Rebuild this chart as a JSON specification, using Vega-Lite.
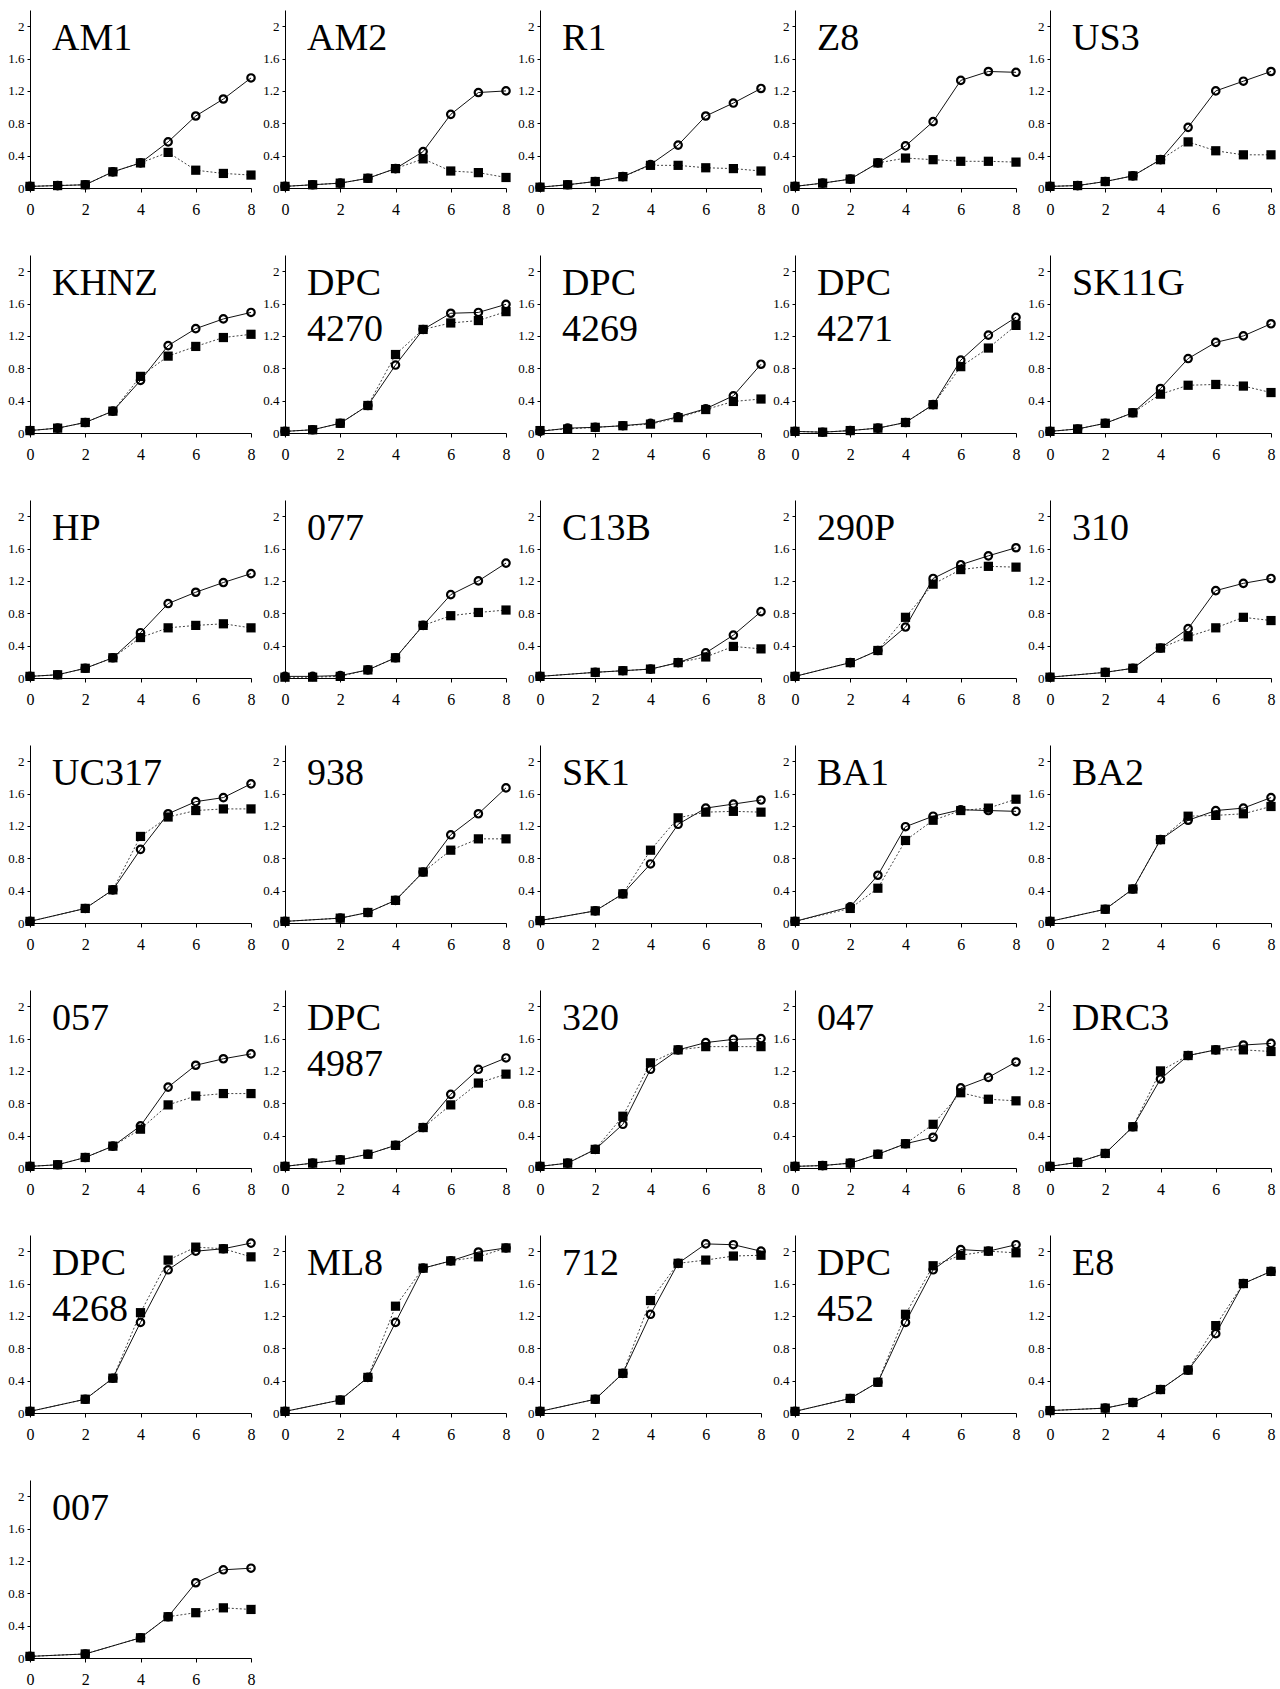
{
"$schema": "https://vega.github.io/schema/vega-lite/v6.json",
"padding": {"left": 5, "top": 9, "right": 5, "bottom": 5},
"background": "white",
"datasets": {"d": [
{"p":"AM1","g":"s","x":0,"y":0.02},{"p":"AM1","g":"s","x":1,"y":0.03},{"p":"AM1","g":"s","x":2,"y":0.04},{"p":"AM1","g":"s","x":3,"y":0.2},{"p":"AM1","g":"s","x":4,"y":0.31},{"p":"AM1","g":"s","x":5,"y":0.44},{"p":"AM1","g":"s","x":6,"y":0.22},{"p":"AM1","g":"s","x":7,"y":0.18},{"p":"AM1","g":"s","x":8,"y":0.16},
{"p":"AM1","g":"o","x":0,"y":0.02},{"p":"AM1","g":"o","x":1,"y":0.03},{"p":"AM1","g":"o","x":2,"y":0.04},{"p":"AM1","g":"o","x":3,"y":0.2},{"p":"AM1","g":"o","x":4,"y":0.31},{"p":"AM1","g":"o","x":5,"y":0.57},{"p":"AM1","g":"o","x":6,"y":0.89},{"p":"AM1","g":"o","x":7,"y":1.1},{"p":"AM1","g":"o","x":8,"y":1.36},
{"p":"AM2","g":"s","x":0,"y":0.02},{"p":"AM2","g":"s","x":1,"y":0.04},{"p":"AM2","g":"s","x":2,"y":0.06},{"p":"AM2","g":"s","x":3,"y":0.12},{"p":"AM2","g":"s","x":4,"y":0.24},{"p":"AM2","g":"s","x":5,"y":0.36},{"p":"AM2","g":"s","x":6,"y":0.21},{"p":"AM2","g":"s","x":7,"y":0.19},{"p":"AM2","g":"s","x":8,"y":0.13},
{"p":"AM2","g":"o","x":0,"y":0.02},{"p":"AM2","g":"o","x":1,"y":0.04},{"p":"AM2","g":"o","x":2,"y":0.06},{"p":"AM2","g":"o","x":3,"y":0.12},{"p":"AM2","g":"o","x":4,"y":0.24},{"p":"AM2","g":"o","x":5,"y":0.45},{"p":"AM2","g":"o","x":6,"y":0.91},{"p":"AM2","g":"o","x":7,"y":1.18},{"p":"AM2","g":"o","x":8,"y":1.2},
{"p":"R1","g":"s","x":0,"y":0.01},{"p":"R1","g":"s","x":1,"y":0.04},{"p":"R1","g":"s","x":2,"y":0.08},{"p":"R1","g":"s","x":3,"y":0.14},{"p":"R1","g":"s","x":4,"y":0.28},{"p":"R1","g":"s","x":5,"y":0.28},{"p":"R1","g":"s","x":6,"y":0.25},{"p":"R1","g":"s","x":7,"y":0.24},{"p":"R1","g":"s","x":8,"y":0.21},
{"p":"R1","g":"o","x":0,"y":0.01},{"p":"R1","g":"o","x":1,"y":0.04},{"p":"R1","g":"o","x":2,"y":0.08},{"p":"R1","g":"o","x":3,"y":0.14},{"p":"R1","g":"o","x":4,"y":0.29},{"p":"R1","g":"o","x":5,"y":0.53},{"p":"R1","g":"o","x":6,"y":0.89},{"p":"R1","g":"o","x":7,"y":1.05},{"p":"R1","g":"o","x":8,"y":1.23},
{"p":"Z8","g":"s","x":0,"y":0.02},{"p":"Z8","g":"s","x":1,"y":0.06},{"p":"Z8","g":"s","x":2,"y":0.11},{"p":"Z8","g":"s","x":3,"y":0.31},{"p":"Z8","g":"s","x":4,"y":0.37},{"p":"Z8","g":"s","x":5,"y":0.35},{"p":"Z8","g":"s","x":6,"y":0.33},{"p":"Z8","g":"s","x":7,"y":0.33},{"p":"Z8","g":"s","x":8,"y":0.32},
{"p":"Z8","g":"o","x":0,"y":0.02},{"p":"Z8","g":"o","x":1,"y":0.06},{"p":"Z8","g":"o","x":2,"y":0.11},{"p":"Z8","g":"o","x":3,"y":0.31},{"p":"Z8","g":"o","x":4,"y":0.52},{"p":"Z8","g":"o","x":5,"y":0.82},{"p":"Z8","g":"o","x":6,"y":1.33},{"p":"Z8","g":"o","x":7,"y":1.44},{"p":"Z8","g":"o","x":8,"y":1.43},
{"p":"US3","g":"s","x":0,"y":0.02},{"p":"US3","g":"s","x":1,"y":0.03},{"p":"US3","g":"s","x":2,"y":0.08},{"p":"US3","g":"s","x":3,"y":0.15},{"p":"US3","g":"s","x":4,"y":0.35},{"p":"US3","g":"s","x":5,"y":0.57},{"p":"US3","g":"s","x":6,"y":0.46},{"p":"US3","g":"s","x":7,"y":0.41},{"p":"US3","g":"s","x":8,"y":0.41},
{"p":"US3","g":"o","x":0,"y":0.02},{"p":"US3","g":"o","x":1,"y":0.03},{"p":"US3","g":"o","x":2,"y":0.08},{"p":"US3","g":"o","x":3,"y":0.15},{"p":"US3","g":"o","x":4,"y":0.35},{"p":"US3","g":"o","x":5,"y":0.75},{"p":"US3","g":"o","x":6,"y":1.2},{"p":"US3","g":"o","x":7,"y":1.32},{"p":"US3","g":"o","x":8,"y":1.44},
{"p":"KHNZ","g":"s","x":0,"y":0.03},{"p":"KHNZ","g":"s","x":1,"y":0.06},{"p":"KHNZ","g":"s","x":2,"y":0.13},{"p":"KHNZ","g":"s","x":3,"y":0.27},{"p":"KHNZ","g":"s","x":4,"y":0.7},{"p":"KHNZ","g":"s","x":5,"y":0.95},{"p":"KHNZ","g":"s","x":6,"y":1.07},{"p":"KHNZ","g":"s","x":7,"y":1.18},{"p":"KHNZ","g":"s","x":8,"y":1.22},
{"p":"KHNZ","g":"o","x":0,"y":0.03},{"p":"KHNZ","g":"o","x":1,"y":0.06},{"p":"KHNZ","g":"o","x":2,"y":0.13},{"p":"KHNZ","g":"o","x":3,"y":0.27},{"p":"KHNZ","g":"o","x":4,"y":0.65},{"p":"KHNZ","g":"o","x":5,"y":1.08},{"p":"KHNZ","g":"o","x":6,"y":1.29},{"p":"KHNZ","g":"o","x":7,"y":1.41},{"p":"KHNZ","g":"o","x":8,"y":1.49},
{"p":"DPC 4270","g":"s","x":0,"y":0.02},{"p":"DPC 4270","g":"s","x":1,"y":0.04},{"p":"DPC 4270","g":"s","x":2,"y":0.12},{"p":"DPC 4270","g":"s","x":3,"y":0.34},{"p":"DPC 4270","g":"s","x":4,"y":0.97},{"p":"DPC 4270","g":"s","x":5,"y":1.28},{"p":"DPC 4270","g":"s","x":6,"y":1.36},{"p":"DPC 4270","g":"s","x":7,"y":1.39},{"p":"DPC 4270","g":"s","x":8,"y":1.5},
{"p":"DPC 4270","g":"o","x":0,"y":0.02},{"p":"DPC 4270","g":"o","x":1,"y":0.04},{"p":"DPC 4270","g":"o","x":2,"y":0.12},{"p":"DPC 4270","g":"o","x":3,"y":0.34},{"p":"DPC 4270","g":"o","x":4,"y":0.84},{"p":"DPC 4270","g":"o","x":5,"y":1.28},{"p":"DPC 4270","g":"o","x":6,"y":1.48},{"p":"DPC 4270","g":"o","x":7,"y":1.49},{"p":"DPC 4270","g":"o","x":8,"y":1.59},
{"p":"DPC 4269","g":"s","x":0,"y":0.03},{"p":"DPC 4269","g":"s","x":1,"y":0.05},{"p":"DPC 4269","g":"s","x":2,"y":0.07},{"p":"DPC 4269","g":"s","x":3,"y":0.09},{"p":"DPC 4269","g":"s","x":4,"y":0.11},{"p":"DPC 4269","g":"s","x":5,"y":0.19},{"p":"DPC 4269","g":"s","x":6,"y":0.29},{"p":"DPC 4269","g":"s","x":7,"y":0.39},{"p":"DPC 4269","g":"s","x":8,"y":0.42},
{"p":"DPC 4269","g":"o","x":0,"y":0.02},{"p":"DPC 4269","g":"o","x":1,"y":0.06},{"p":"DPC 4269","g":"o","x":2,"y":0.07},{"p":"DPC 4269","g":"o","x":3,"y":0.09},{"p":"DPC 4269","g":"o","x":4,"y":0.12},{"p":"DPC 4269","g":"o","x":5,"y":0.2},{"p":"DPC 4269","g":"o","x":6,"y":0.3},{"p":"DPC 4269","g":"o","x":7,"y":0.46},{"p":"DPC 4269","g":"o","x":8,"y":0.85},
{"p":"DPC 4271","g":"s","x":0,"y":0.02},{"p":"DPC 4271","g":"s","x":1,"y":0.01},{"p":"DPC 4271","g":"s","x":2,"y":0.03},{"p":"DPC 4271","g":"s","x":3,"y":0.06},{"p":"DPC 4271","g":"s","x":4,"y":0.13},{"p":"DPC 4271","g":"s","x":5,"y":0.35},{"p":"DPC 4271","g":"s","x":6,"y":0.82},{"p":"DPC 4271","g":"s","x":7,"y":1.05},{"p":"DPC 4271","g":"s","x":8,"y":1.33},
{"p":"DPC 4271","g":"o","x":0,"y":0.02},{"p":"DPC 4271","g":"o","x":1,"y":0.01},{"p":"DPC 4271","g":"o","x":2,"y":0.03},{"p":"DPC 4271","g":"o","x":3,"y":0.06},{"p":"DPC 4271","g":"o","x":4,"y":0.13},{"p":"DPC 4271","g":"o","x":5,"y":0.35},{"p":"DPC 4271","g":"o","x":6,"y":0.9},{"p":"DPC 4271","g":"o","x":7,"y":1.21},{"p":"DPC 4271","g":"o","x":8,"y":1.43},
{"p":"SK11G","g":"s","x":0,"y":0.02},{"p":"SK11G","g":"s","x":1,"y":0.05},{"p":"SK11G","g":"s","x":2,"y":0.12},{"p":"SK11G","g":"s","x":3,"y":0.25},{"p":"SK11G","g":"s","x":4,"y":0.48},{"p":"SK11G","g":"s","x":5,"y":0.59},{"p":"SK11G","g":"s","x":6,"y":0.6},{"p":"SK11G","g":"s","x":7,"y":0.58},{"p":"SK11G","g":"s","x":8,"y":0.5},
{"p":"SK11G","g":"o","x":0,"y":0.02},{"p":"SK11G","g":"o","x":1,"y":0.05},{"p":"SK11G","g":"o","x":2,"y":0.12},{"p":"SK11G","g":"o","x":3,"y":0.25},{"p":"SK11G","g":"o","x":4,"y":0.55},{"p":"SK11G","g":"o","x":5,"y":0.92},{"p":"SK11G","g":"o","x":6,"y":1.12},{"p":"SK11G","g":"o","x":7,"y":1.2},{"p":"SK11G","g":"o","x":8,"y":1.35},
{"p":"HP","g":"s","x":0,"y":0.02},{"p":"HP","g":"s","x":1,"y":0.04},{"p":"HP","g":"s","x":2,"y":0.12},{"p":"HP","g":"s","x":3,"y":0.25},{"p":"HP","g":"s","x":4,"y":0.5},{"p":"HP","g":"s","x":5,"y":0.62},{"p":"HP","g":"s","x":6,"y":0.65},{"p":"HP","g":"s","x":7,"y":0.67},{"p":"HP","g":"s","x":8,"y":0.62},
{"p":"HP","g":"o","x":0,"y":0.02},{"p":"HP","g":"o","x":1,"y":0.04},{"p":"HP","g":"o","x":2,"y":0.12},{"p":"HP","g":"o","x":3,"y":0.25},{"p":"HP","g":"o","x":4,"y":0.56},{"p":"HP","g":"o","x":5,"y":0.92},{"p":"HP","g":"o","x":6,"y":1.06},{"p":"HP","g":"o","x":7,"y":1.18},{"p":"HP","g":"o","x":8,"y":1.29},
{"p":"077","g":"s","x":0,"y":0.01},{"p":"077","g":"s","x":1,"y":0.01},{"p":"077","g":"s","x":2,"y":0.02},{"p":"077","g":"s","x":3,"y":0.1},{"p":"077","g":"s","x":4,"y":0.25},{"p":"077","g":"s","x":5,"y":0.65},{"p":"077","g":"s","x":6,"y":0.77},{"p":"077","g":"s","x":7,"y":0.81},{"p":"077","g":"s","x":8,"y":0.84},
{"p":"077","g":"o","x":0,"y":0.02},{"p":"077","g":"o","x":1,"y":0.02},{"p":"077","g":"o","x":2,"y":0.03},{"p":"077","g":"o","x":3,"y":0.1},{"p":"077","g":"o","x":4,"y":0.25},{"p":"077","g":"o","x":5,"y":0.65},{"p":"077","g":"o","x":6,"y":1.03},{"p":"077","g":"o","x":7,"y":1.2},{"p":"077","g":"o","x":8,"y":1.42},
{"p":"C13B","g":"s","x":0,"y":0.02},{"p":"C13B","g":"s","x":2,"y":0.07},{"p":"C13B","g":"s","x":3,"y":0.09},{"p":"C13B","g":"s","x":4,"y":0.11},{"p":"C13B","g":"s","x":5,"y":0.19},{"p":"C13B","g":"s","x":6,"y":0.26},{"p":"C13B","g":"s","x":7,"y":0.39},{"p":"C13B","g":"s","x":8,"y":0.36},
{"p":"C13B","g":"o","x":0,"y":0.02},{"p":"C13B","g":"o","x":2,"y":0.07},{"p":"C13B","g":"o","x":3,"y":0.09},{"p":"C13B","g":"o","x":4,"y":0.11},{"p":"C13B","g":"o","x":5,"y":0.19},{"p":"C13B","g":"o","x":6,"y":0.31},{"p":"C13B","g":"o","x":7,"y":0.53},{"p":"C13B","g":"o","x":8,"y":0.82},
{"p":"290P","g":"s","x":0,"y":0.02},{"p":"290P","g":"s","x":2,"y":0.19},{"p":"290P","g":"s","x":3,"y":0.34},{"p":"290P","g":"s","x":4,"y":0.75},{"p":"290P","g":"s","x":5,"y":1.16},{"p":"290P","g":"s","x":6,"y":1.34},{"p":"290P","g":"s","x":7,"y":1.38},{"p":"290P","g":"s","x":8,"y":1.37},
{"p":"290P","g":"o","x":0,"y":0.02},{"p":"290P","g":"o","x":2,"y":0.19},{"p":"290P","g":"o","x":3,"y":0.34},{"p":"290P","g":"o","x":4,"y":0.63},{"p":"290P","g":"o","x":5,"y":1.23},{"p":"290P","g":"o","x":6,"y":1.4},{"p":"290P","g":"o","x":7,"y":1.51},{"p":"290P","g":"o","x":8,"y":1.61},
{"p":"310","g":"s","x":0,"y":0.01},{"p":"310","g":"s","x":2,"y":0.07},{"p":"310","g":"s","x":3,"y":0.12},{"p":"310","g":"s","x":4,"y":0.37},{"p":"310","g":"s","x":5,"y":0.51},{"p":"310","g":"s","x":6,"y":0.62},{"p":"310","g":"s","x":7,"y":0.75},{"p":"310","g":"s","x":8,"y":0.71},
{"p":"310","g":"o","x":0,"y":0.01},{"p":"310","g":"o","x":2,"y":0.07},{"p":"310","g":"o","x":3,"y":0.12},{"p":"310","g":"o","x":4,"y":0.37},{"p":"310","g":"o","x":5,"y":0.61},{"p":"310","g":"o","x":6,"y":1.08},{"p":"310","g":"o","x":7,"y":1.17},{"p":"310","g":"o","x":8,"y":1.23},
{"p":"UC317","g":"s","x":0,"y":0.02},{"p":"UC317","g":"s","x":2,"y":0.18},{"p":"UC317","g":"s","x":3,"y":0.41},{"p":"UC317","g":"s","x":4,"y":1.07},{"p":"UC317","g":"s","x":5,"y":1.31},{"p":"UC317","g":"s","x":6,"y":1.39},{"p":"UC317","g":"s","x":7,"y":1.41},{"p":"UC317","g":"s","x":8,"y":1.41},
{"p":"UC317","g":"o","x":0,"y":0.02},{"p":"UC317","g":"o","x":2,"y":0.18},{"p":"UC317","g":"o","x":3,"y":0.41},{"p":"UC317","g":"o","x":4,"y":0.91},{"p":"UC317","g":"o","x":5,"y":1.35},{"p":"UC317","g":"o","x":6,"y":1.5},{"p":"UC317","g":"o","x":7,"y":1.55},{"p":"UC317","g":"o","x":8,"y":1.72},
{"p":"938","g":"s","x":0,"y":0.02},{"p":"938","g":"s","x":2,"y":0.06},{"p":"938","g":"s","x":3,"y":0.13},{"p":"938","g":"s","x":4,"y":0.28},{"p":"938","g":"s","x":5,"y":0.63},{"p":"938","g":"s","x":6,"y":0.9},{"p":"938","g":"s","x":7,"y":1.04},{"p":"938","g":"s","x":8,"y":1.04},
{"p":"938","g":"o","x":0,"y":0.02},{"p":"938","g":"o","x":2,"y":0.06},{"p":"938","g":"o","x":3,"y":0.13},{"p":"938","g":"o","x":4,"y":0.28},{"p":"938","g":"o","x":5,"y":0.63},{"p":"938","g":"o","x":6,"y":1.09},{"p":"938","g":"o","x":7,"y":1.35},{"p":"938","g":"o","x":8,"y":1.67},
{"p":"SK1","g":"s","x":0,"y":0.03},{"p":"SK1","g":"s","x":2,"y":0.15},{"p":"SK1","g":"s","x":3,"y":0.36},{"p":"SK1","g":"s","x":4,"y":0.9},{"p":"SK1","g":"s","x":5,"y":1.3},{"p":"SK1","g":"s","x":6,"y":1.37},{"p":"SK1","g":"s","x":7,"y":1.38},{"p":"SK1","g":"s","x":8,"y":1.37},
{"p":"SK1","g":"o","x":0,"y":0.03},{"p":"SK1","g":"o","x":2,"y":0.15},{"p":"SK1","g":"o","x":3,"y":0.36},{"p":"SK1","g":"o","x":4,"y":0.73},{"p":"SK1","g":"o","x":5,"y":1.22},{"p":"SK1","g":"o","x":6,"y":1.42},{"p":"SK1","g":"o","x":7,"y":1.47},{"p":"SK1","g":"o","x":8,"y":1.52},
{"p":"BA1","g":"s","x":0,"y":0.02},{"p":"BA1","g":"s","x":2,"y":0.18},{"p":"BA1","g":"s","x":3,"y":0.43},{"p":"BA1","g":"s","x":4,"y":1.02},{"p":"BA1","g":"s","x":5,"y":1.27},{"p":"BA1","g":"s","x":6,"y":1.39},{"p":"BA1","g":"s","x":7,"y":1.42},{"p":"BA1","g":"s","x":8,"y":1.53},
{"p":"BA1","g":"o","x":0,"y":0.02},{"p":"BA1","g":"o","x":2,"y":0.2},{"p":"BA1","g":"o","x":3,"y":0.59},{"p":"BA1","g":"o","x":4,"y":1.19},{"p":"BA1","g":"o","x":5,"y":1.32},{"p":"BA1","g":"o","x":6,"y":1.4},{"p":"BA1","g":"o","x":7,"y":1.39},{"p":"BA1","g":"o","x":8,"y":1.38},
{"p":"BA2","g":"s","x":0,"y":0.02},{"p":"BA2","g":"s","x":2,"y":0.17},{"p":"BA2","g":"s","x":3,"y":0.42},{"p":"BA2","g":"s","x":4,"y":1.03},{"p":"BA2","g":"s","x":5,"y":1.32},{"p":"BA2","g":"s","x":6,"y":1.33},{"p":"BA2","g":"s","x":7,"y":1.35},{"p":"BA2","g":"s","x":8,"y":1.44},
{"p":"BA2","g":"o","x":0,"y":0.02},{"p":"BA2","g":"o","x":2,"y":0.17},{"p":"BA2","g":"o","x":3,"y":0.42},{"p":"BA2","g":"o","x":4,"y":1.03},{"p":"BA2","g":"o","x":5,"y":1.27},{"p":"BA2","g":"o","x":6,"y":1.39},{"p":"BA2","g":"o","x":7,"y":1.42},{"p":"BA2","g":"o","x":8,"y":1.55},
{"p":"057","g":"s","x":0,"y":0.02},{"p":"057","g":"s","x":1,"y":0.04},{"p":"057","g":"s","x":2,"y":0.13},{"p":"057","g":"s","x":3,"y":0.27},{"p":"057","g":"s","x":4,"y":0.48},{"p":"057","g":"s","x":5,"y":0.78},{"p":"057","g":"s","x":6,"y":0.89},{"p":"057","g":"s","x":7,"y":0.92},{"p":"057","g":"s","x":8,"y":0.92},
{"p":"057","g":"o","x":0,"y":0.02},{"p":"057","g":"o","x":1,"y":0.04},{"p":"057","g":"o","x":2,"y":0.13},{"p":"057","g":"o","x":3,"y":0.27},{"p":"057","g":"o","x":4,"y":0.52},{"p":"057","g":"o","x":5,"y":1.0},{"p":"057","g":"o","x":6,"y":1.27},{"p":"057","g":"o","x":7,"y":1.35},{"p":"057","g":"o","x":8,"y":1.41},
{"p":"DPC 4987","g":"s","x":0,"y":0.02},{"p":"DPC 4987","g":"s","x":1,"y":0.06},{"p":"DPC 4987","g":"s","x":2,"y":0.1},{"p":"DPC 4987","g":"s","x":3,"y":0.17},{"p":"DPC 4987","g":"s","x":4,"y":0.28},{"p":"DPC 4987","g":"s","x":5,"y":0.5},{"p":"DPC 4987","g":"s","x":6,"y":0.78},{"p":"DPC 4987","g":"s","x":7,"y":1.05},{"p":"DPC 4987","g":"s","x":8,"y":1.16},
{"p":"DPC 4987","g":"o","x":0,"y":0.02},{"p":"DPC 4987","g":"o","x":1,"y":0.06},{"p":"DPC 4987","g":"o","x":2,"y":0.1},{"p":"DPC 4987","g":"o","x":3,"y":0.17},{"p":"DPC 4987","g":"o","x":4,"y":0.28},{"p":"DPC 4987","g":"o","x":5,"y":0.5},{"p":"DPC 4987","g":"o","x":6,"y":0.91},{"p":"DPC 4987","g":"o","x":7,"y":1.22},{"p":"DPC 4987","g":"o","x":8,"y":1.36},
{"p":"320","g":"s","x":0,"y":0.02},{"p":"320","g":"s","x":1,"y":0.06},{"p":"320","g":"s","x":2,"y":0.23},{"p":"320","g":"s","x":3,"y":0.64},{"p":"320","g":"s","x":4,"y":1.3},{"p":"320","g":"s","x":5,"y":1.46},{"p":"320","g":"s","x":6,"y":1.5},{"p":"320","g":"s","x":7,"y":1.5},{"p":"320","g":"s","x":8,"y":1.5},
{"p":"320","g":"o","x":0,"y":0.02},{"p":"320","g":"o","x":1,"y":0.06},{"p":"320","g":"o","x":2,"y":0.23},{"p":"320","g":"o","x":3,"y":0.54},{"p":"320","g":"o","x":4,"y":1.22},{"p":"320","g":"o","x":5,"y":1.46},{"p":"320","g":"o","x":6,"y":1.55},{"p":"320","g":"o","x":7,"y":1.59},{"p":"320","g":"o","x":8,"y":1.6},
{"p":"047","g":"s","x":0,"y":0.02},{"p":"047","g":"s","x":1,"y":0.03},{"p":"047","g":"s","x":2,"y":0.06},{"p":"047","g":"s","x":3,"y":0.17},{"p":"047","g":"s","x":4,"y":0.3},{"p":"047","g":"s","x":5,"y":0.54},{"p":"047","g":"s","x":6,"y":0.93},{"p":"047","g":"s","x":7,"y":0.85},{"p":"047","g":"s","x":8,"y":0.83},
{"p":"047","g":"o","x":0,"y":0.02},{"p":"047","g":"o","x":1,"y":0.03},{"p":"047","g":"o","x":2,"y":0.06},{"p":"047","g":"o","x":3,"y":0.17},{"p":"047","g":"o","x":4,"y":0.3},{"p":"047","g":"o","x":5,"y":0.38},{"p":"047","g":"o","x":6,"y":0.99},{"p":"047","g":"o","x":7,"y":1.12},{"p":"047","g":"o","x":8,"y":1.31},
{"p":"DRC3","g":"s","x":0,"y":0.02},{"p":"DRC3","g":"s","x":1,"y":0.07},{"p":"DRC3","g":"s","x":2,"y":0.18},{"p":"DRC3","g":"s","x":3,"y":0.51},{"p":"DRC3","g":"s","x":4,"y":1.2},{"p":"DRC3","g":"s","x":5,"y":1.39},{"p":"DRC3","g":"s","x":6,"y":1.46},{"p":"DRC3","g":"s","x":7,"y":1.46},{"p":"DRC3","g":"s","x":8,"y":1.44},
{"p":"DRC3","g":"o","x":0,"y":0.02},{"p":"DRC3","g":"o","x":1,"y":0.07},{"p":"DRC3","g":"o","x":2,"y":0.18},{"p":"DRC3","g":"o","x":3,"y":0.51},{"p":"DRC3","g":"o","x":4,"y":1.1},{"p":"DRC3","g":"o","x":5,"y":1.39},{"p":"DRC3","g":"o","x":6,"y":1.46},{"p":"DRC3","g":"o","x":7,"y":1.52},{"p":"DRC3","g":"o","x":8,"y":1.54},
{"p":"DPC 4268","g":"s","x":0,"y":0.02},{"p":"DPC 4268","g":"s","x":2,"y":0.17},{"p":"DPC 4268","g":"s","x":3,"y":0.43},{"p":"DPC 4268","g":"s","x":4,"y":1.24},{"p":"DPC 4268","g":"s","x":5,"y":1.89},{"p":"DPC 4268","g":"s","x":6,"y":2.05},{"p":"DPC 4268","g":"s","x":7,"y":2.03},{"p":"DPC 4268","g":"s","x":8,"y":1.93},
{"p":"DPC 4268","g":"o","x":0,"y":0.02},{"p":"DPC 4268","g":"o","x":2,"y":0.17},{"p":"DPC 4268","g":"o","x":3,"y":0.43},{"p":"DPC 4268","g":"o","x":4,"y":1.12},{"p":"DPC 4268","g":"o","x":5,"y":1.77},{"p":"DPC 4268","g":"o","x":6,"y":2.0},{"p":"DPC 4268","g":"o","x":7,"y":2.03},{"p":"DPC 4268","g":"o","x":8,"y":2.1},
{"p":"ML8","g":"s","x":0,"y":0.02},{"p":"ML8","g":"s","x":2,"y":0.16},{"p":"ML8","g":"s","x":3,"y":0.44},{"p":"ML8","g":"s","x":4,"y":1.32},{"p":"ML8","g":"s","x":5,"y":1.79},{"p":"ML8","g":"s","x":6,"y":1.88},{"p":"ML8","g":"s","x":7,"y":1.93},{"p":"ML8","g":"s","x":8,"y":2.04},
{"p":"ML8","g":"o","x":0,"y":0.02},{"p":"ML8","g":"o","x":2,"y":0.16},{"p":"ML8","g":"o","x":3,"y":0.44},{"p":"ML8","g":"o","x":4,"y":1.12},{"p":"ML8","g":"o","x":5,"y":1.79},{"p":"ML8","g":"o","x":6,"y":1.88},{"p":"ML8","g":"o","x":7,"y":1.99},{"p":"ML8","g":"o","x":8,"y":2.04},
{"p":"712","g":"s","x":0,"y":0.02},{"p":"712","g":"s","x":2,"y":0.17},{"p":"712","g":"s","x":3,"y":0.49},{"p":"712","g":"s","x":4,"y":1.39},{"p":"712","g":"s","x":5,"y":1.85},{"p":"712","g":"s","x":6,"y":1.89},{"p":"712","g":"s","x":7,"y":1.94},{"p":"712","g":"s","x":8,"y":1.95},
{"p":"712","g":"o","x":0,"y":0.02},{"p":"712","g":"o","x":2,"y":0.17},{"p":"712","g":"o","x":3,"y":0.49},{"p":"712","g":"o","x":4,"y":1.22},{"p":"712","g":"o","x":5,"y":1.85},{"p":"712","g":"o","x":6,"y":2.09},{"p":"712","g":"o","x":7,"y":2.08},{"p":"712","g":"o","x":8,"y":2.0},
{"p":"DPC 452","g":"s","x":0,"y":0.02},{"p":"DPC 452","g":"s","x":2,"y":0.18},{"p":"DPC 452","g":"s","x":3,"y":0.38},{"p":"DPC 452","g":"s","x":4,"y":1.22},{"p":"DPC 452","g":"s","x":5,"y":1.82},{"p":"DPC 452","g":"s","x":6,"y":1.95},{"p":"DPC 452","g":"s","x":7,"y":2.0},{"p":"DPC 452","g":"s","x":8,"y":1.98},
{"p":"DPC 452","g":"o","x":0,"y":0.02},{"p":"DPC 452","g":"o","x":2,"y":0.18},{"p":"DPC 452","g":"o","x":3,"y":0.38},{"p":"DPC 452","g":"o","x":4,"y":1.12},{"p":"DPC 452","g":"o","x":5,"y":1.77},{"p":"DPC 452","g":"o","x":6,"y":2.02},{"p":"DPC 452","g":"o","x":7,"y":2.0},{"p":"DPC 452","g":"o","x":8,"y":2.08},
{"p":"E8","g":"s","x":0,"y":0.03},{"p":"E8","g":"s","x":2,"y":0.06},{"p":"E8","g":"s","x":3,"y":0.13},{"p":"E8","g":"s","x":4,"y":0.29},{"p":"E8","g":"s","x":5,"y":0.53},{"p":"E8","g":"s","x":6,"y":1.08},{"p":"E8","g":"s","x":7,"y":1.6},{"p":"E8","g":"s","x":8,"y":1.75},
{"p":"E8","g":"o","x":0,"y":0.03},{"p":"E8","g":"o","x":2,"y":0.06},{"p":"E8","g":"o","x":3,"y":0.13},{"p":"E8","g":"o","x":4,"y":0.29},{"p":"E8","g":"o","x":5,"y":0.53},{"p":"E8","g":"o","x":6,"y":0.98},{"p":"E8","g":"o","x":7,"y":1.6},{"p":"E8","g":"o","x":8,"y":1.75},
{"p":"007","g":"s","x":0,"y":0.02},{"p":"007","g":"s","x":2,"y":0.05},{"p":"007","g":"s","x":4,"y":0.25},{"p":"007","g":"s","x":5,"y":0.51},{"p":"007","g":"s","x":6,"y":0.56},{"p":"007","g":"s","x":7,"y":0.62},{"p":"007","g":"s","x":8,"y":0.6},
{"p":"007","g":"o","x":0,"y":0.02},{"p":"007","g":"o","x":2,"y":0.05},{"p":"007","g":"o","x":4,"y":0.25},{"p":"007","g":"o","x":5,"y":0.51},{"p":"007","g":"o","x":6,"y":0.93},{"p":"007","g":"o","x":7,"y":1.09},{"p":"007","g":"o","x":8,"y":1.11}
]},
"data": {"name": "d"},
"columns": 5,
"bounds": "flush",
"spacing": {"row": 67, "column": 34},
"facet": {"field": "p", "type": "nominal", "title": null,
  "header": {"labels": false, "title": null, "labelExpr": "''", "labelFontSize": 1, "labelColor": "white", "labelPadding": 0},
  "sort": ["AM1","AM2","R1","Z8","US3","KHNZ","DPC 4270","DPC 4269","DPC 4271","SK11G","HP","077","C13B","290P","310","UC317","938","SK1","BA1","BA2","057","DPC 4987","320","047","DRC3","DPC 4268","ML8","712","DPC 452","E8","007"]},
"spec": {
  "width": 221,
  "height": 178,
  "encoding": {
    "x": {"field": "x", "type": "quantitative", "scale": {"domain": [0, 8], "nice": false},
      "axis": {"values": [0, 2, 4, 6, 8], "title": null, "grid": false, "labelFont": "Liberation Serif", "labelFontSize": 16, "labelColor": "black", "tickSize": 4, "labelPadding": 9, "domainColor": "black", "tickColor": "black", "domainWidth": 1, "minExtent": 30, "maxExtent": 30, "labelFlush": false}},
    "y": {"field": "y", "type": "quantitative", "scale": {"domain": [0, 2.2], "nice": false},
      "axis": {"values": [0, 0.4, 0.8, 1.2, 1.6, 2], "format": "~g", "title": null, "grid": false, "labelFont": "Liberation Serif", "labelFontSize": 13, "labelColor": "black", "tickSize": 3, "labelPadding": 3, "domainColor": "black", "tickColor": "black", "domainWidth": 1, "minExtent": 25, "maxExtent": 25, "labelFlush": false}}
  },
  "layer": [
    {"transform": [{"filter": "datum.g == 's'"}], "mark": {"type": "line", "color": "#444444", "strokeWidth": 1, "strokeDash": [2, 2]}},
    {"transform": [{"filter": "datum.g == 'o'"}], "mark": {"type": "line", "color": "#111111", "strokeWidth": 1}},
    {"transform": [{"filter": "datum.g == 'o'"}], "mark": {"type": "point", "shape": "circle", "filled": false, "color": "black", "strokeWidth": 2.2, "size": 55, "opacity": 1}},
    {"transform": [{"filter": "datum.g == 's'"}], "mark": {"type": "point", "shape": "square", "filled": true, "color": "black", "size": 85, "opacity": 1}},
    {"transform": [{"filter": "datum.g == 's' && datum.x == 0"}],
     "mark": {"type": "text", "font": "Liberation Serif", "fontSize": 38, "align": "left", "baseline": "alphabetic", "lineBreak": " ", "lineHeight": 46, "color": "black"},
     "encoding": {"x": {"datum": 0.8, "type": "quantitative"}, "y": {"datum": 1.7, "type": "quantitative"}, "text": {"field": "p"}}}
  ]
},
"resolve": {"axis": {"x": "independent", "y": "independent"}},
"config": {"view": {"stroke": null}, "font": "Liberation Serif",
  "headerFacet": {"labels": false, "title": null}}
}
